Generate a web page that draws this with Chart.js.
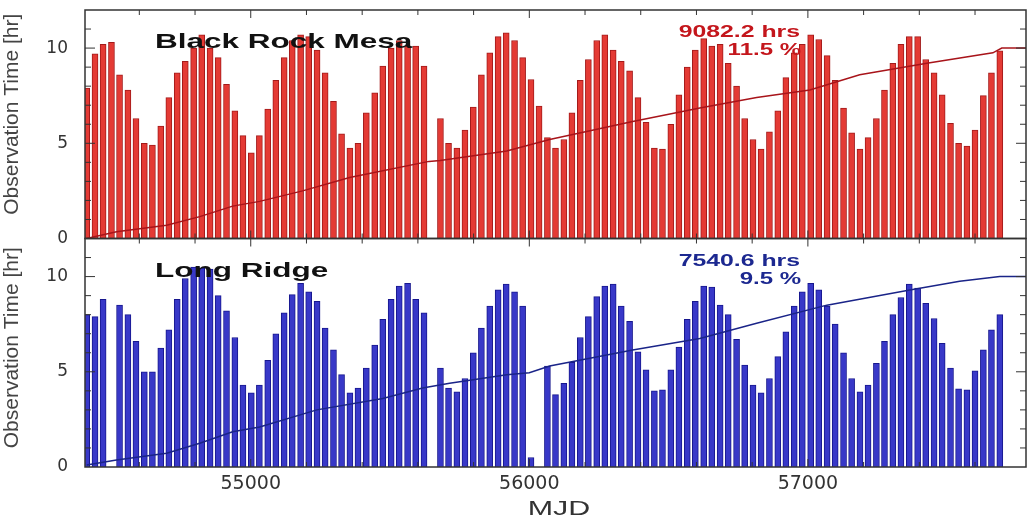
<!DOCTYPE html>
<html>
<head>
<meta charset="utf-8">
<script src="https://cdn.jsdelivr.net/npm/chart.js@4.4.1/dist/chart.umd.min.js"></script>
<style>
html, body { margin: 0; padding: 0; background: #fff; }
#wrap { position: relative; width: 1027px; height: 516px; }
</style>
</head>
<body>
<div id="wrap"><canvas id="obsChart" width="1027" height="516"></canvas></div>
<script>
// centre of each dark run (MJD), one per lunation
const darkRunMJD = [
    54411, 54441, 54470, 54500, 54529, 54559, 54588, 54618, 54647, 54677,
    54706, 54736, 54765, 54795, 54824, 54854, 54883, 54913, 54943, 54972,
    55002, 55031, 55061, 55090, 55120, 55149, 55179, 55208, 55238, 55267,
    55297, 55326, 55356, 55385, 55415, 55445, 55474, 55504, 55533, 55563,
    55592, 55622, 55651, 55681, 55710, 55740, 55769, 55799, 55828, 55858,
    55888, 55917, 55947, 55976, 56006, 56035, 56065, 56094, 56124, 56153,
    56183, 56212, 56242, 56271, 56301, 56330, 56360, 56390, 56419, 56449,
    56478, 56508, 56537, 56567, 56596, 56626, 56655, 56685, 56714, 56744,
    56773, 56803, 56832, 56862, 56892, 56921, 56951, 56980, 57010, 57039,
    57069, 57098, 57128, 57157, 57187, 57216, 57246, 57275, 57305, 57334,
    57364, 57394, 57423, 57453, 57482, 57512, 57541, 57571, 57600, 57630,
    57659, 57689
];

// longest night of each dark run [hr]
const blackRockHours = [
    7.9, 9.7, 10.2, 10.3, 8.6, 7.8, 6.3, 5.0, 4.9, 5.9,
    7.4, 8.7, 9.3, 10.0, 10.7, 10.0, 9.5, 8.1, 6.7, 5.4,
    4.5, 5.4, 6.8, 8.3, 9.5, 10.4, 10.7, 10.6, 9.9, 8.7,
    7.2, 5.5, 4.75, 5.0, 6.6, 7.65, 9.05, 10.0, 10.4, 10.1,
    10.1, 9.05, null, 6.3, 5.0, 4.75, 5.7, 6.9, 8.6, 9.75,
    10.6, 10.8, 10.4, 9.5, 8.35, 6.95, 5.3, 4.75, 5.2, 6.6,
    8.3, 9.4, 10.4, 10.7, 9.9, 9.3, 8.8, 7.4, 6.1, 4.75,
    4.7, 6.0, 7.55, 9.0, 9.9, 10.5, 10.1, 10.2, 9.2, 8.0,
    6.3, 5.2, 4.7, 5.6, 6.7, 8.45, 9.75, 10.2, 10.7, 10.45,
    9.6, 8.3, 6.85, 5.55, 4.7, 5.3, 6.3, 7.8, 9.2, 10.2,
    10.6, 10.6, 9.4, 8.7, 7.55, 6.05, 5.0, 4.85, 5.7, 7.5,
    8.7, 9.85
];
const longRidgeHours = [
    8.0, 7.9, 8.8, null, 8.5, 8.0, 6.6, 5.0, 5.0, 6.25,
    7.2, 8.8, 9.9, 10.5, 10.45, 10.4, 9.0, 8.2, 6.8, 4.3,
    3.9, 4.3, 5.6, 7.0, 8.1, 9.05, 9.65, 9.2, 8.7, 7.3,
    6.15, 4.85, 3.9, 4.15, 5.2, 6.4, 7.75, 8.8, 9.5, 9.65,
    8.8, 8.1, null, 5.2, 4.15, 3.95, 4.65, 6.0, 7.3, 8.45,
    9.3, 9.6, 9.2, 8.45, 0.5, null, 5.3, 3.8, 4.4, 5.5,
    6.8, 7.9, 8.95, 9.5, 9.6, 8.45, 7.65, 6.05, 5.1, 4.0,
    4.05, 5.1, 6.3, 7.75, 8.7, 9.5, 9.45, 8.5, 8.0, 6.7,
    5.35, 4.3, 3.9, 4.65, 5.8, 7.1, 8.45, 9.2, 9.65, 9.3,
    8.45, 7.5, 6.0, 4.65, 3.95, 4.3, 5.45, 6.6, 8.0, 8.9,
    9.6, 9.4, 8.6, 7.8, 6.5, 5.2, 4.1, 4.05, 5.05, 6.15,
    7.2, 8.0
];

// cumulative observation time, scaled so the total reads 10
const blackRockCumMJD = [54411, 54518, 54698, 54817, 54935, 55032, 55186, 55355, 55640, 55680, 55919, 56073, 56371, 56612, 56816, 57007, 57186, 57427, 57664, 57696, 57786];
const blackRockCum = [0, 0.35, 0.7, 1.15, 1.7, 1.95, 2.5, 3.2, 4.05, 4.1, 4.6, 5.2, 6.15, 6.85, 7.4, 7.8, 8.6, 9.2, 9.75, 10.0, 10.0];
const longRidgeCumMJD = [54411, 54518, 54698, 54817, 54935, 55032, 55237, 55474, 55617, 55714, 55919, 56000, 56073, 56371, 56612, 56816, 57068, 57366, 57545, 57689, 57786];
const longRidgeCum = [0.1, 0.37, 0.72, 1.25, 1.85, 2.1, 3.0, 3.6, 4.15, 4.4, 4.85, 4.95, 5.3, 6.15, 6.75, 7.55, 8.5, 9.3, 9.75, 10.0, 10.0];

const xTickLabels = [55000, 56000, 57000];
const yTickLabels = [0, 5, 10];

const sites = [
    { axis: 'yTop', name: 'Black Rock Mesa', hours: '9082.2 hrs', frac: '11.5 %', color: '#c4161c', titleShift: -10 },
    { axis: 'yBot', name: 'Long Ridge', hours: '7540.6 hrs', frac: '9.5 %', color: '#1c2890', titleShift: -5 }
];

function points(xs, ys) {
    return xs.map((x, i) => ({ x: x, y: ys[i] }));
}

// text in the reference is stretched sideways
function stretchText(ctx, text, x, y, align, sx) {
    ctx.save();
    ctx.translate(x, y);
    ctx.scale(sx, 1);
    ctx.textAlign = align;
    ctx.textBaseline = 'alphabetic';
    ctx.fillText(text, 0, 0);
    ctx.restore();
}

const panelDecor = {
    id: 'panelDecor',
    afterDatasetsDraw(chart) {
        const ctx = chart.ctx;
        const xs = chart.scales.x;
        const left = chart.chartArea.left;
        const right = chart.chartArea.right;

        sites.forEach(site => {
            const ys = chart.scales[site.axis];
            const top = ys.top, bottom = ys.bottom;
            ctx.save();
            ctx.strokeStyle = '#333';
            ctx.lineWidth = 1.5;
            ctx.strokeRect(left, top, right - left, bottom - top);
            ctx.lineWidth = 1;
            ctx.beginPath();
            for (let v = 54600; v <= 57600; v += 200) {
                const px = xs.getPixelForValue(v);
                const len = v % 1000 === 0 ? 8 : 5;
                ctx.moveTo(px, top); ctx.lineTo(px, top + len);
                ctx.moveTo(px, bottom); ctx.lineTo(px, bottom - len);
            }
            for (let v = 1; v <= 11; v++) {
                const py = ys.getPixelForValue(v);
                const len = v % 5 === 0 ? 10 : 6;
                ctx.moveTo(left, py); ctx.lineTo(left + len, py);
                ctx.moveTo(right, py); ctx.lineTo(right - len, py);
            }
            ctx.stroke();

            // site name and totals
            ctx.fillStyle = '#111';
            ctx.font = 'bold 21px "Liberation Sans"';
            stretchText(ctx, site.name, 155, top + 38, 'left', 1.5);
            ctx.fillStyle = site.color;
            ctx.font = 'bold 16px "Liberation Sans"';
            stretchText(ctx, site.hours, 800, top + 27, 'right', 1.55);
            stretchText(ctx, site.frac, 801, top + 45, 'right', 1.5);

            // y title, hugging the left edge as in the original
            ctx.fillStyle = '#444';
            ctx.font = '21px "Liberation Sans"';
            ctx.translate(18, (top + bottom) / 2 + site.titleShift);
            ctx.rotate(-Math.PI / 2);
            ctx.textAlign = 'center';
            ctx.fillText('Observation Time [hr]', 0, 0);
            ctx.restore();
        });

        ctx.save();
        ctx.fillStyle = '#333';
        ctx.font = '21px "Liberation Sans"';
        stretchText(ctx, 'MJD', 559, 515, 'center', 1.45);
        ctx.restore();
    }
};

window.onload = function () {
    Chart.defaults.font.family = '"DejaVu Sans"';
    Chart.defaults.color = '#333';

    const yAxis = {
        type: 'linear',
        position: 'left',
        stack: 'panels',
        stackWeight: 1,
        min: 0,
        max: 12,
        grid: { display: false, drawTicks: false },
        border: { display: false },
        afterFit: scale => {
            scale.width = 85;
            scale.paddingTop = 0;
            scale.paddingBottom = 0;
        },
        afterBuildTicks: scale => { scale.ticks = yTickLabels.map(v => ({ value: v })); },
        ticks: { padding: 17, font: { size: 17 }, color: '#333' }
    };

    new Chart(document.getElementById('obsChart'), {
        type: 'bar',
        data: {
            datasets: [
                {
                    type: 'line', yAxisID: 'yTop', data: points(blackRockCumMJD, blackRockCum),
                    borderColor: '#a8141a', borderWidth: 1.5, pointRadius: 0, order: 0
                },
                {
                    type: 'line', yAxisID: 'yBot', data: points(longRidgeCumMJD, longRidgeCum),
                    borderColor: '#1a2488', borderWidth: 1.5, pointRadius: 0, order: 0
                },
                {
                    yAxisID: 'yTop', data: points(darkRunMJD, blackRockHours), grouped: false,
                    barThickness: 6, backgroundColor: '#e43a34', borderColor: '#a31a1a',
                    borderWidth: 1, order: 1
                },
                {
                    yAxisID: 'yBot', data: points(darkRunMJD, longRidgeHours), grouped: false,
                    barThickness: 6, backgroundColor: '#3838c8', borderColor: '#17178e',
                    borderWidth: 1, order: 1
                }
            ]
        },
        options: {
            responsive: false,
            animation: false,
            devicePixelRatio: 1,
            layout: { padding: { top: 10, right: 1, left: 0, bottom: 0 } },
            plugins: { legend: { display: false }, tooltip: { enabled: false } },
            scales: {
                x: {
                    type: 'linear',
                    position: 'bottom',
                    offset: false,
                    min: 54405,
                    max: 57783,
                    grid: { display: false, drawTicks: false },
                    border: { display: false },
                    afterFit: scale => {
                        scale.height = 49;
                        scale.paddingLeft = 0;
                        scale.paddingRight = 0;
                    },
                    afterBuildTicks: scale => { scale.ticks = xTickLabels.map(v => ({ value: v })); },
                    ticks: { padding: 6, font: { size: 19 }, color: '#333', maxRotation: 0, callback: v => String(v) }
                },
                // stacked scales are laid out bottom-up, so the lower panel comes first
                yBot: Object.assign({}, yAxis),
                yTop: Object.assign({}, yAxis)
            }
        },
        plugins: [panelDecor]
    });
};
</script>
</body>
</html>
